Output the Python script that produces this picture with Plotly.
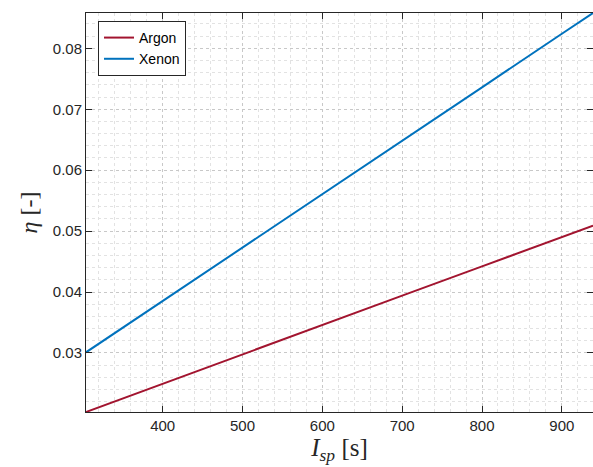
import plotly.graph_objects as go

# Specific impulse [s] and thrust efficiency [-] for each propellant
isp = [304, 400, 500, 600, 700, 800, 900, 939]
eta_argon = [0.0203, 0.0249, 0.0297, 0.0346, 0.0394, 0.0442, 0.0490, 0.0509]
eta_xenon = [0.0301, 0.0385, 0.0473, 0.0561, 0.0648, 0.0736, 0.0824, 0.0858]

x_ticks = [400, 500, 600, 700, 800, 900]
y_ticks = [0.03, 0.04, 0.05, 0.06, 0.07, 0.08]

fig = go.Figure()
fig.add_trace(go.Scatter(x=isp, y=eta_argon, mode="lines", name="Argon",
                         line=dict(color="#A2142F", width=2)))
fig.add_trace(go.Scatter(x=isp, y=eta_xenon, mode="lines", name="Xenon",
                         line=dict(color="#0072BD", width=2)))

axis_common = dict(
    showline=True, linecolor="#262626", linewidth=1, mirror="ticks",
    ticks="inside", ticklen=6, tickcolor="#262626", tickwidth=1,
    showgrid=True, gridcolor="#c8c8c8", griddash="dot", gridwidth=1,
    zeroline=False,
    tickfont=dict(family="Liberation Sans, Arial, sans-serif", size=15, color="#262626"),
)

fig.update_layout(
    width=593, height=467,
    margin=dict(l=86, r=0, t=13, b=55),
    paper_bgcolor="white", plot_bgcolor="white",
    font=dict(family="Liberation Sans, Arial, sans-serif", color="#262626"),
    xaxis=dict(
        range=[304, 939], tickvals=x_ticks, ticktext=[str(v) for v in x_ticks],
        minor=dict(dtick=20, showgrid=True, gridcolor="#e2e2e2", griddash="dot",
                   ticks=""),
        title=dict(text="<i>I<sub>sp</sub></i> [s]",
                   font=dict(family="Liberation Serif, DejaVu Serif, serif", size=25,
                             color="#262626"),
                   standoff=4),
        **axis_common,
    ),
    yaxis=dict(
        range=[0.0203, 0.0858], tickvals=y_ticks,
        ticktext=[f"{v:.2f}" for v in y_ticks],
        minor=dict(dtick=0.002, showgrid=True, gridcolor="#e2e2e2", griddash="dot",
                   ticks=""),
        title=dict(text="<i>η</i> [-]",
                   font=dict(family="Liberation Serif, DejaVu Serif, serif", size=24,
                             color="#262626"),
                   standoff=8),
        **axis_common,
    ),
    legend=dict(
        x=0.0237, y=0.98, xanchor="left", yanchor="top",
        bgcolor="white", bordercolor="#262626", borderwidth=1,
        font=dict(family="Liberation Sans, Arial, sans-serif", size=14, color="#000000"),
        tracegroupgap=0, itemwidth=30,
    ),
    showlegend=True,
)

fig.write_html("out.html")
